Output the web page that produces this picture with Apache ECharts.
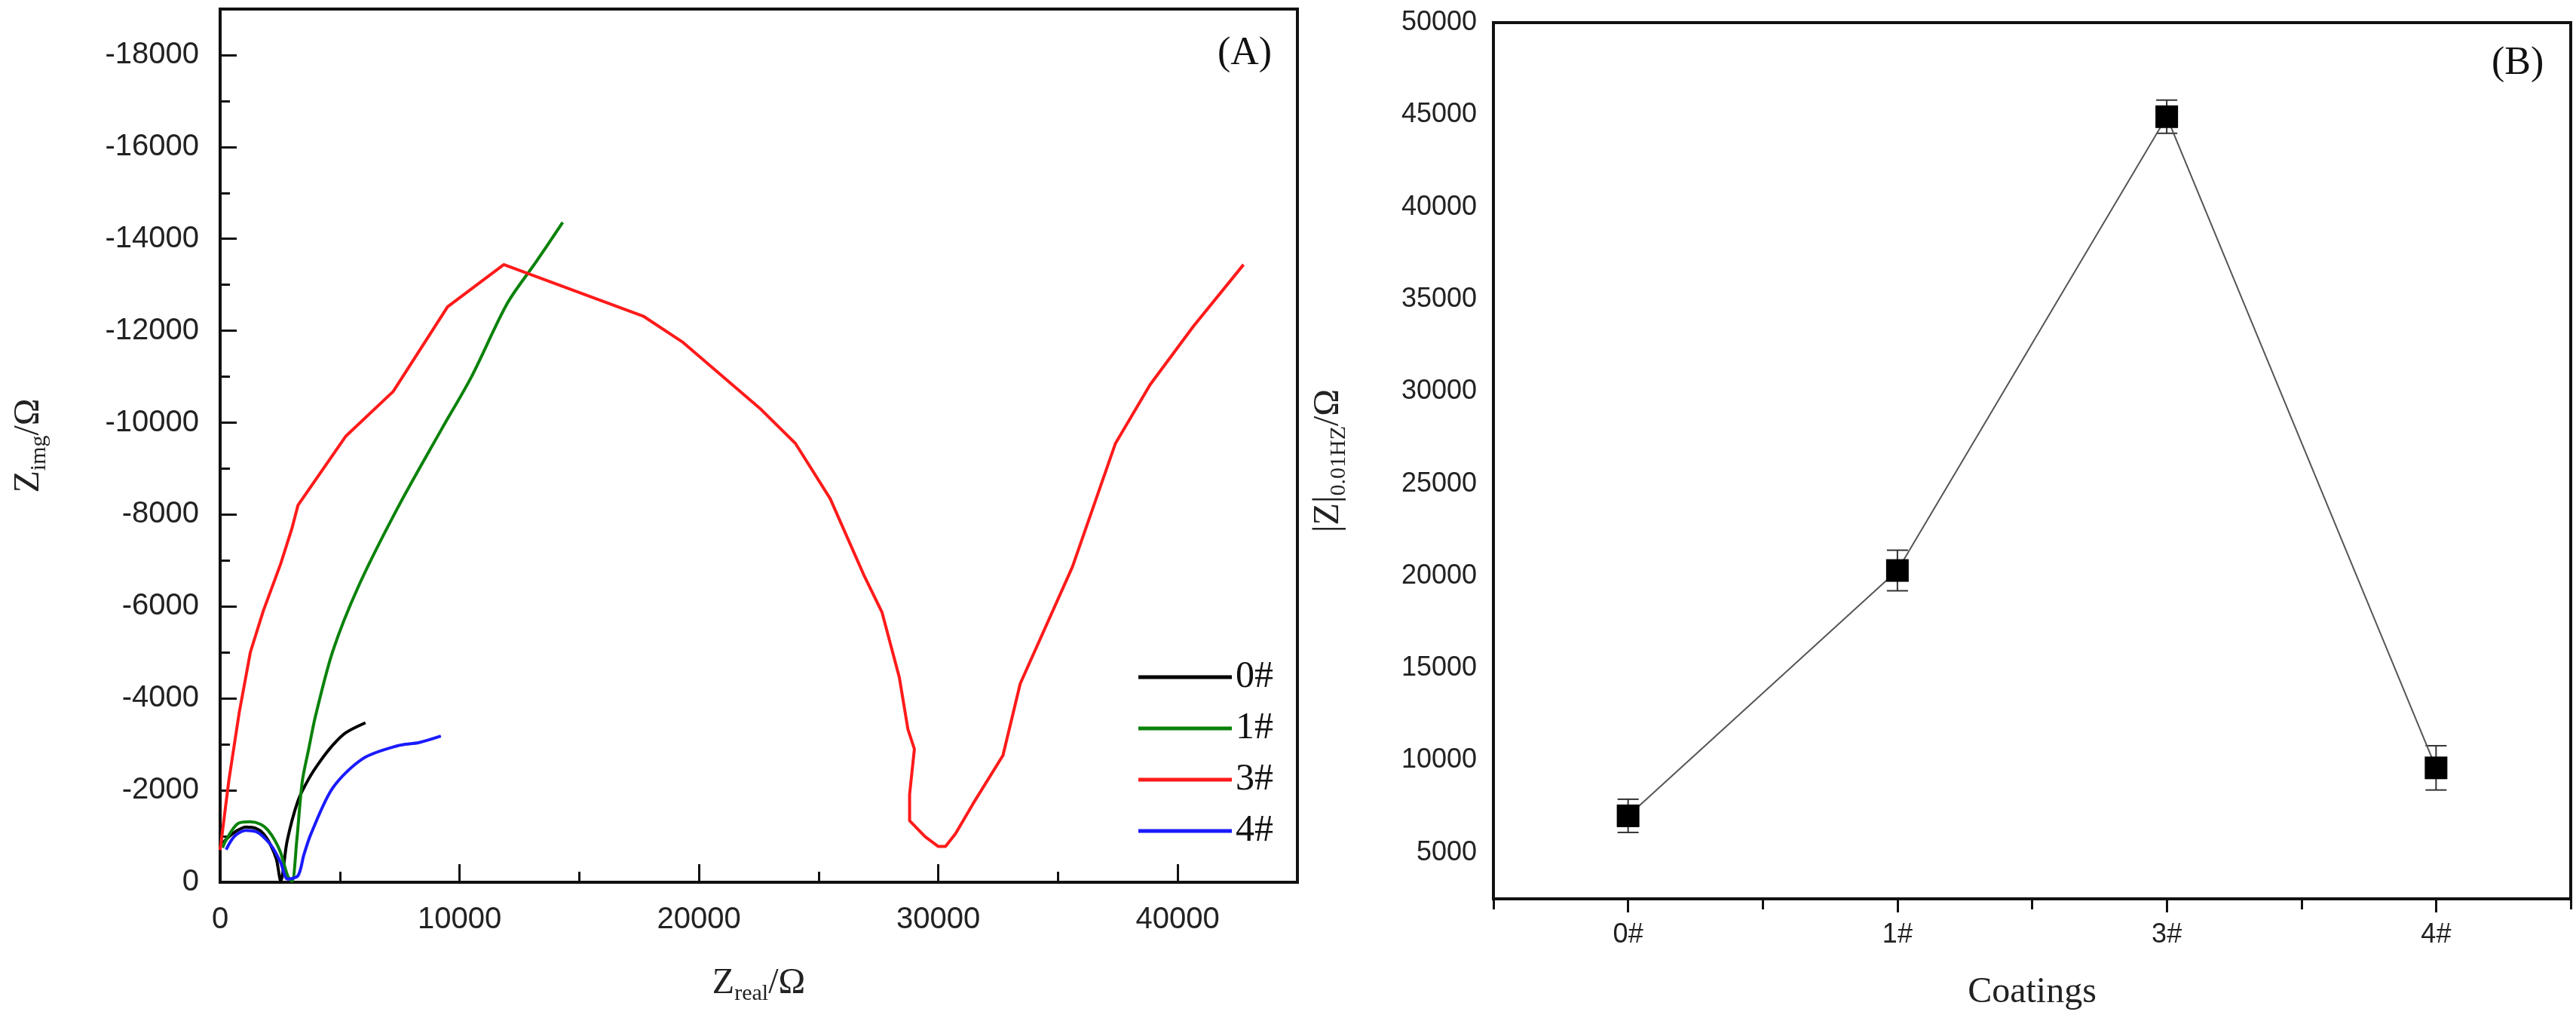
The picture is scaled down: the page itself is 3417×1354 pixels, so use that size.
<!DOCTYPE html>
<html>
<head>
<meta charset="utf-8">
<script src="https://cdn.jsdelivr.net/npm/echarts@6/dist/echarts.min.js"></script>
<style>html,body{margin:0;padding:0;background:#fff}#main{width:3417px;height:1354px}</style>
</head>
<body>
<div id="main"></div>
<script>
// Nyquist curves, [Zreal, Zimg] (Zimg negative)
var nyq0 = [[100,-850],[500,-1050],[1080,-1200],[1500,-1170],[1800,-1060],[2100,-820],[2350,-500],[2530,-30],[2800,-900],[3250,-1770],[3700,-2250],[4160,-2620],[4700,-2980],[5240,-3250],[6070,-3470]];
var nyq1 = [[100,-750],[250,-920],[720,-1270],[1260,-1316],[1700,-1260],[2000,-1130],[2300,-900],[2530,-640],[2820,-140],[3000,-20],[3200,-900],[3430,-2190],[3700,-2900],[3980,-3610],[4700,-5020],[5780,-6440],[7410,-8140],[9220,-9830],[10500,-11000],[12000,-12600],[13200,-13500],[14310,-14360]];
var nyq3 = [[0,-700],[360,-2200],[800,-3700],[1260,-5000],[1800,-5900],[2530,-6930],[3000,-7700],[3250,-8200],[5240,-9700],[7230,-10680],[9500,-12520],[11850,-13440],[17700,-12310],[19340,-11745],[22590,-10290],[24030,-9550],[25480,-8350],[26920,-6650],[27650,-5870],[28370,-4460],[28730,-3330],[29000,-2900],[28800,-1910],[28800,-1340],[29450,-990],[29990,-780],[30300,-780],[30720,-1060],[31440,-1700],[32700,-2760],[33420,-4320],[35600,-6860],[37400,-9550],[38850,-10830],[40660,-12100],[42750,-13440]];
var nyq4 = [[250,-710],[600,-1000],[1080,-1130],[1500,-1100],[1800,-990],[2200,-750],[2530,-425],[2820,-70],[3250,-140],[3500,-600],[3800,-1060],[4700,-2050],[5960,-2690],[7410,-2970],[8310,-3040],[9220,-3180]];

// |Z| at 0.01 Hz
var coatings = ['0#','1#','3#','4#'];
var zMod = [7000, 20300, 44900, 9600];
var zLow = [6100, 19200, 44000, 8400];
var zHigh = [7900, 21400, 45800, 10800];

var aXMajor = [0,10000,20000,30000,40000];
var aXMinor = [5000,15000,25000,35000,45000];
var aYMajor = [0,-2000,-4000,-6000,-8000,-10000,-12000,-14000,-16000,-18000];
var aYMinor = [-1000,-3000,-5000,-7000,-9000,-11000,-13000,-15000,-17000];
var bYMajor = [5000,10000,15000,20000,25000,30000,35000,40000,45000,50000];
var bYMinor = [7500,12500,17500,22500,27500,32500,37500,42500,47500];

var sans = 'Liberation Sans';
var serif = 'Liberation Serif';
var plain = function (v) { return String(v); };
var tickStyle = {color: '#111', width: 3};
var nameRich = {
    m: {fontFamily: serif, fontSize: 48, color: '#222'},
    s: {fontFamily: serif, fontSize: 30, color: '#222', verticalAlign: 'bottom', padding: [28, 0, 0, 0]}
};

var myChart = echarts.init(document.getElementById('main'));
var option = {
    animation: false,
    backgroundColor: '#fff',
    graphic: [
        {type: 'text', left: 1615, top: 45, style: {text: '(A)', font: '52px ' + serif, fill: '#111'}},
        {type: 'text', left: 3305, top: 58, style: {text: '(B)', font: '52px ' + serif, fill: '#111'}}
    ],
    legend: {
        data: ['0#','1#','3#','4#'],
        orient: 'vertical',
        left: 1505, top: 868,
        itemWidth: 124, itemHeight: 5, itemGap: 18,
        icon: 'rect',
        textStyle: {fontFamily: serif, fontSize: 50, color: '#111'}
    },
    grid: [
        {left: 292, top: 12, width: 1429, height: 1158, show: true, borderColor: '#111', borderWidth: 4},
        {left: 1981, top: 30, width: 1429, height: 1162, show: true, borderColor: '#111', borderWidth: 4}
    ],
    xAxis: [
        {gridIndex: 0, type: 'value', min: 0, max: 45000,
         name: '{m|Z}{s|real}{m|/Ω}', nameLocation: 'middle', nameGap: 105, nameTextStyle: {rich: nameRich},
         axisLine: {lineStyle: {color: '#111', width: 4}},
         axisTick: {inside: true, length: 24, customValues: aXMajor, lineStyle: tickStyle},
         axisLabel: {fontFamily: sans, fontSize: 40, color: '#222', margin: 30, customValues: aXMajor, formatter: plain},
         splitLine: {show: false}},
        {gridIndex: 0, type: 'value', min: 0, max: 45000, position: 'bottom',
         axisLine: {show: false}, axisLabel: {show: false}, splitLine: {show: false},
         axisTick: {inside: true, length: 14, customValues: aXMinor, lineStyle: tickStyle}},
        {gridIndex: 1, type: 'category', data: coatings, boundaryGap: true,
         name: 'Coatings', nameLocation: 'middle', nameGap: 100,
         nameTextStyle: {fontFamily: serif, fontSize: 48, color: '#222'},
         axisLine: {lineStyle: {color: '#111', width: 4}},
         axisTick: {show: true, alignWithLabel: false, interval: 0, length: 14, lineStyle: tickStyle},
         axisLabel: {fontFamily: sans, fontSize: 36, color: '#222', margin: 30},
         splitLine: {show: false}},
        {gridIndex: 1, type: 'category', data: coatings, boundaryGap: true, position: 'bottom',
         axisLine: {show: false}, axisLabel: {show: false},
         axisTick: {show: true, alignWithLabel: true, length: 18, lineStyle: tickStyle}}
    ],
    yAxis: [
        {gridIndex: 0, type: 'value', min: -19000, max: 0, inverse: true,
         name: '{m|Z}{s|img}{m|/Ω}', nameLocation: 'middle', nameGap: 225, nameRotate: 90, nameTextStyle: {rich: nameRich},
         axisLine: {lineStyle: {color: '#111', width: 4}},
         axisTick: {inside: true, length: 22, customValues: aYMajor, lineStyle: tickStyle},
         axisLabel: {fontFamily: sans, fontSize: 40, color: '#222', margin: 28, customValues: aYMajor, formatter: plain},
         splitLine: {show: false}},
        {gridIndex: 0, type: 'value', min: -19000, max: 0, inverse: true, position: 'left',
         axisLine: {show: false}, axisLabel: {show: false}, splitLine: {show: false},
         axisTick: {inside: true, length: 13, customValues: aYMinor, lineStyle: tickStyle}},
        {gridIndex: 1, type: 'value', min: 2500, max: 50000,
         name: '{m||Z|}{s|0.01HZ}{m|/Ω}', nameLocation: 'middle', nameGap: 190, nameRotate: 90, nameTextStyle: {rich: nameRich},
         axisLine: {lineStyle: {color: '#111', width: 4}},
         axisTick: {inside: true, length: 24, customValues: bYMajor, lineStyle: tickStyle},
         axisLabel: {fontFamily: sans, fontSize: 36, color: '#222', margin: 22, customValues: bYMajor, formatter: plain},
         splitLine: {show: false}},
        {gridIndex: 1, type: 'value', min: 2500, max: 50000, position: 'left',
         axisLine: {show: false}, axisLabel: {show: false}, splitLine: {show: false},
         axisTick: {inside: true, length: 14, customValues: bYMinor, lineStyle: tickStyle}}
    ],
    series: [
        {name: '0#', type: 'line', xAxisIndex: 0, yAxisIndex: 0, data: nyq0, showSymbol: false, smooth: 0.3, color: '#000', lineStyle: {width: 4}},
        {name: '1#', type: 'line', xAxisIndex: 0, yAxisIndex: 0, data: nyq1, showSymbol: false, smooth: 0.3, color: '#0a820a', lineStyle: {width: 4}},
        {name: '3#', type: 'line', xAxisIndex: 0, yAxisIndex: 0, data: nyq3, showSymbol: false, color: '#ff1a1a', lineStyle: {width: 4}},
        {name: '4#', type: 'line', xAxisIndex: 0, yAxisIndex: 0, data: nyq4, showSymbol: false, smooth: 0.3, color: '#1a1aff', lineStyle: {width: 4}},
        {type: 'line', xAxisIndex: 2, yAxisIndex: 2, data: zMod, symbol: 'rect', symbolSize: 30,
         itemStyle: {color: '#000'}, lineStyle: {color: '#555', width: 2}, z: 3},
        {type: 'custom', xAxisIndex: 2, yAxisIndex: 2, z: 2,
         data: coatings.map(function (c, i) { return [i, zLow[i], zHigh[i]]; }),
         renderItem: function (params, api) {
             var lo = api.coord([api.value(0), api.value(1)]);
             var hi = api.coord([api.value(0), api.value(2)]);
             var w = 14, st = {stroke: '#333', lineWidth: 2};
             return {type: 'group', children: [
                 {type: 'line', shape: {x1: lo[0], y1: lo[1], x2: hi[0], y2: hi[1]}, style: st},
                 {type: 'line', shape: {x1: lo[0] - w, y1: lo[1], x2: lo[0] + w, y2: lo[1]}, style: st},
                 {type: 'line', shape: {x1: hi[0] - w, y1: hi[1], x2: hi[0] + w, y2: hi[1]}, style: st}
             ]};
         }}
    ]
};
myChart.setOption(option);
</script>
</body>
</html>
